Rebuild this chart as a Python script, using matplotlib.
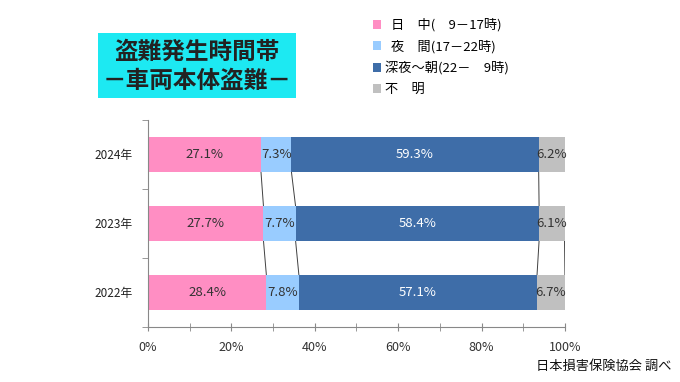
import matplotlib.pyplot as plt
import numpy as np
from matplotlib.patches import Patch, Rectangle

plt.rcParams['font.family'] = ['Noto Sans CJK JP', 'DejaVu Sans']

# data
years = ["2022年", "2023年", "2024年"]
series_names = ["  日　中(　9－17時)", "  夜　間(17－22時)", "深夜～朝(22－　9時)", "不　明"]
daytime = [28.4, 27.7, 27.1]
evening = [7.8, 7.7, 7.3]
night = [57.1, 58.4, 59.3]
unknown = [6.7, 6.1, 6.2]

colors = ["#FF8EC3", "#99CCFF", "#3E6DA8", "#C0C0C0"]
text_colors = ["#333333", "#333333", "#FFFFFF", "#333333"]

values = np.array([daytime, evening, night, unknown])
y = np.arange(len(years))
bar_h = 0.5

fig = plt.figure(figsize=(6.8, 3.82), dpi=100)
ax = fig.add_axes([0.2176, 0.144, 0.6132, 0.542])

left = np.zeros(len(years))
for i in range(len(values)):
    ax.barh(y, values[i], left=left, height=bar_h, color=colors[i], zorder=2)
    for j in range(len(years)):
        ax.text(left[j] + values[i][j] / 2, y[j], f"{values[i][j]:.1f}%",
                ha="center", va="center", fontsize=9.5, color=text_colors[i], zorder=3)
    left = left + values[i]
    # series lines between bars
    for j in range(len(years) - 1):
        ax.plot([left[j], left[j + 1]], [y[j] + bar_h / 2, y[j + 1] - bar_h / 2],
                color="#404040", lw=0.7, zorder=1)

ax.set_xlim(0, 100)
ax.set_ylim(-0.5, len(years) - 0.5)
ax.set_xticks(np.arange(0, 101, 20))
ax.set_xticklabels([f"{v}%" for v in range(0, 101, 20)], fontsize=9, color="#333333")
ax.set_xticks(np.arange(0, 101, 10), minor=True)
ax.set_yticks(y)
ax.set_yticklabels(years, fontsize=8.5, color="#222222")
ax.set_yticks([-0.5, 0.5, 1.5, 2.5], minor=True)
ax.tick_params(axis="y", which="major", length=0, pad=11)
ax.tick_params(axis="y", which="minor", length=4, color="#888888")
ax.tick_params(axis="x", which="both", direction="inout", length=6, color="#888888", pad=7)
for s in ["top", "right"]:
    ax.spines[s].set_visible(False)
for s in ["left", "bottom"]:
    ax.spines[s].set_color("#888888")
    ax.spines[s].set_linewidth(0.8)

# title box
fig.add_artist(Rectangle((98 / 680, 1 - 98 / 382), 198 / 680, 65 / 382,
                         transform=fig.transFigure, facecolor="#1DE9F2", edgecolor="none"))
fig.text(0.290, 1 - 52 / 382, "盗難発生時間帯", ha="center", va="center",
         fontsize=17, fontweight="bold", color="#222222")
fig.text(0.290, 1 - 81 / 382, "－車両本体盗難－", ha="center", va="center",
         fontsize=17, fontweight="bold", color="#222222")

# legend
handles = [Patch(facecolor=c, edgecolor="none") for c in colors]
fig.legend(handles, series_names, loc="upper left", bbox_to_anchor=(0.548, 0.952),
           frameon=False, fontsize=9.5, handlelength=0.65, handleheight=0.65,
           handletextpad=0.25, labelspacing=0.6, borderpad=0, borderaxespad=0)

fig.text(0.988, 0.042, "日本損害保険協会 調べ", ha="right", va="center", fontsize=9.5, color="#111111")

fig.savefig("out.png", dpi=100)
